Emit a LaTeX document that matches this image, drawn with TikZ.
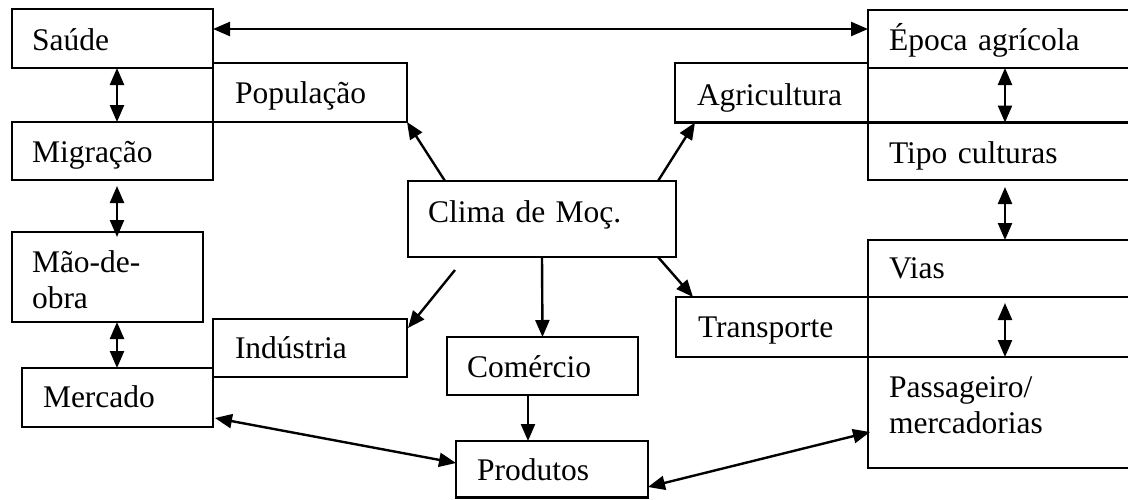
\documentclass[tikz,border=0pt]{standalone}
\usepackage{fontspec}
\setmainfont{Liberation Serif}
\usetikzlibrary{arrows.meta,calc}
\begin{document}
\begin{tikzpicture}[x=1pt,y=-1pt,
  box/.style={draw, line width=2.6pt, rectangle, anchor=north west, outer sep=0pt,
    inner ysep=0pt, align=left, font=\fontsize{31.5}{36}\selectfont},
  tip/.tip={Triangle[length=17pt,width=14pt]},
  arr/.style={line width=2.4pt, -tip},
  dar/.style={line width=2.4pt, tip-tip},
]
\useasboundingbox (0,0) rectangle (1128,499);
\clip (0,0) rectangle (1128,499);

% boxes
\node[box, inner xsep=20pt, text width=161pt, text height=41pt, text depth=18pt] (saude) at (12,9) {Saúde};
\node[box, inner xsep=22pt, text width=150pt, text height=40pt, text depth=19pt] (populacao) at (213,63) {População};
\node[box, inner xsep=20pt, text width=161pt, text height=40pt, text depth=18pt] (migracao) at (12,122) {Migração};
\node[box, inner xsep=20pt, text width=151pt, text height=40pt, text depth=50pt] (mao) at (12,232) {Mão-de-\\obra};
\node[box, inner xsep=21pt, text width=149pt, text height=39pt, text depth=20pt] (mercado) at (22,368) {Mercado};
\node[box, inner xsep=22pt, text width=150pt, text height=39pt, text depth=19pt] (industria) at (213,319) {Indústria};
\node[box, inner xsep=20pt, text width=228pt, text height=41pt, text depth=35pt] (clima) at (408,181) {Clima de Moç.};
\node[box, inner xsep=22pt, text width=149pt, text height=42pt, text depth=17.5pt] (agricultura) at (675,63) {Agricultura};
\node[box, inner xsep=20pt, text width=151pt, text height=40pt, text depth=18pt] (comercio) at (447,337) {Comércio};
\node[box, inner xsep=21pt, text width=150pt, text height=39pt, text depth=17.5pt] (produtos) at (456,441) {Produtos};
\node[box, inner xsep=22pt, text width=148pt, text height=40pt, text depth=20pt] (transporte) at (676,297) {Transporte};
\node[box, inner xsep=21pt, text width=238pt, text height=40pt, text depth=18pt] (epoca) at (868,10) {Época agrícola};
\node[box, inner xsep=21pt, text width=238pt, text height=40.5pt, text depth=17pt] (tipo) at (868,122.5) {Tipo culturas};
\node[box, inner xsep=21pt, text width=238pt, text height=38pt, text depth=19pt] (vias) at (868,240) {Vias};
\node[box, inner xsep=21pt, text width=238pt, text height=40pt, text depth=71pt] (passageiro) at (868,357) {Passageiro/\\mercadorias};

% guide coordinates
\coordinate (mx) at (117,0);
\coordinate (rx) at (1005,0);
\coordinate (topy) at (0,29);
\coordinate (cx) at (528,0);

% connectors
\draw[dar] (saude.east |- topy) -- (epoca.west |- topy);
\draw[dar] (saude.south -| mx) -- (migracao.north -| mx);
\draw[dar] ($(migracao.south -| mx)+(0,6)$) -- ($(mao.north -| mx)+(0,5)$);
\draw[dar] (mao.south -| mx) -- (mercado.north -| mx);
\draw[dar] (epoca.south -| rx) -- (tipo.north -| rx);
\draw[dar] ($(tipo.south -| rx)+(0,7)$) -- (vias.north -| rx);
\draw[dar] ($(vias.south -| rx)+(0,6)$) -- (passageiro.north -| rx);

\draw[arr] ($(clima.north west)+(37,0)$) -- (populacao.south east);
\draw[arr] ($(clima.north east)+(-18,0)$) -- ($(agricultura.south west)+(20,0)$);
\draw[arr] ($(clima.south west)+(47,13)$) -- ($(industria.north east)+(1,9)$);
\draw[arr] (clima.south) -- (comercio.north);
\draw[arr] ($(clima.south east)+(-18,0)$) -- ($(transporte.north west)+(17,0)$);
\draw[arr] (comercio.south -| cx) -- (produtos.north -| cx);
\draw[dar] ($(mercado.south east)+(2,-9)$) -- ($(produtos.north west)+(0,22)$);
\draw[dar] ($(produtos.north east)+(0,46)$) -- ($(passageiro.north west)+(2,75)$);
\end{tikzpicture}
\end{document}
